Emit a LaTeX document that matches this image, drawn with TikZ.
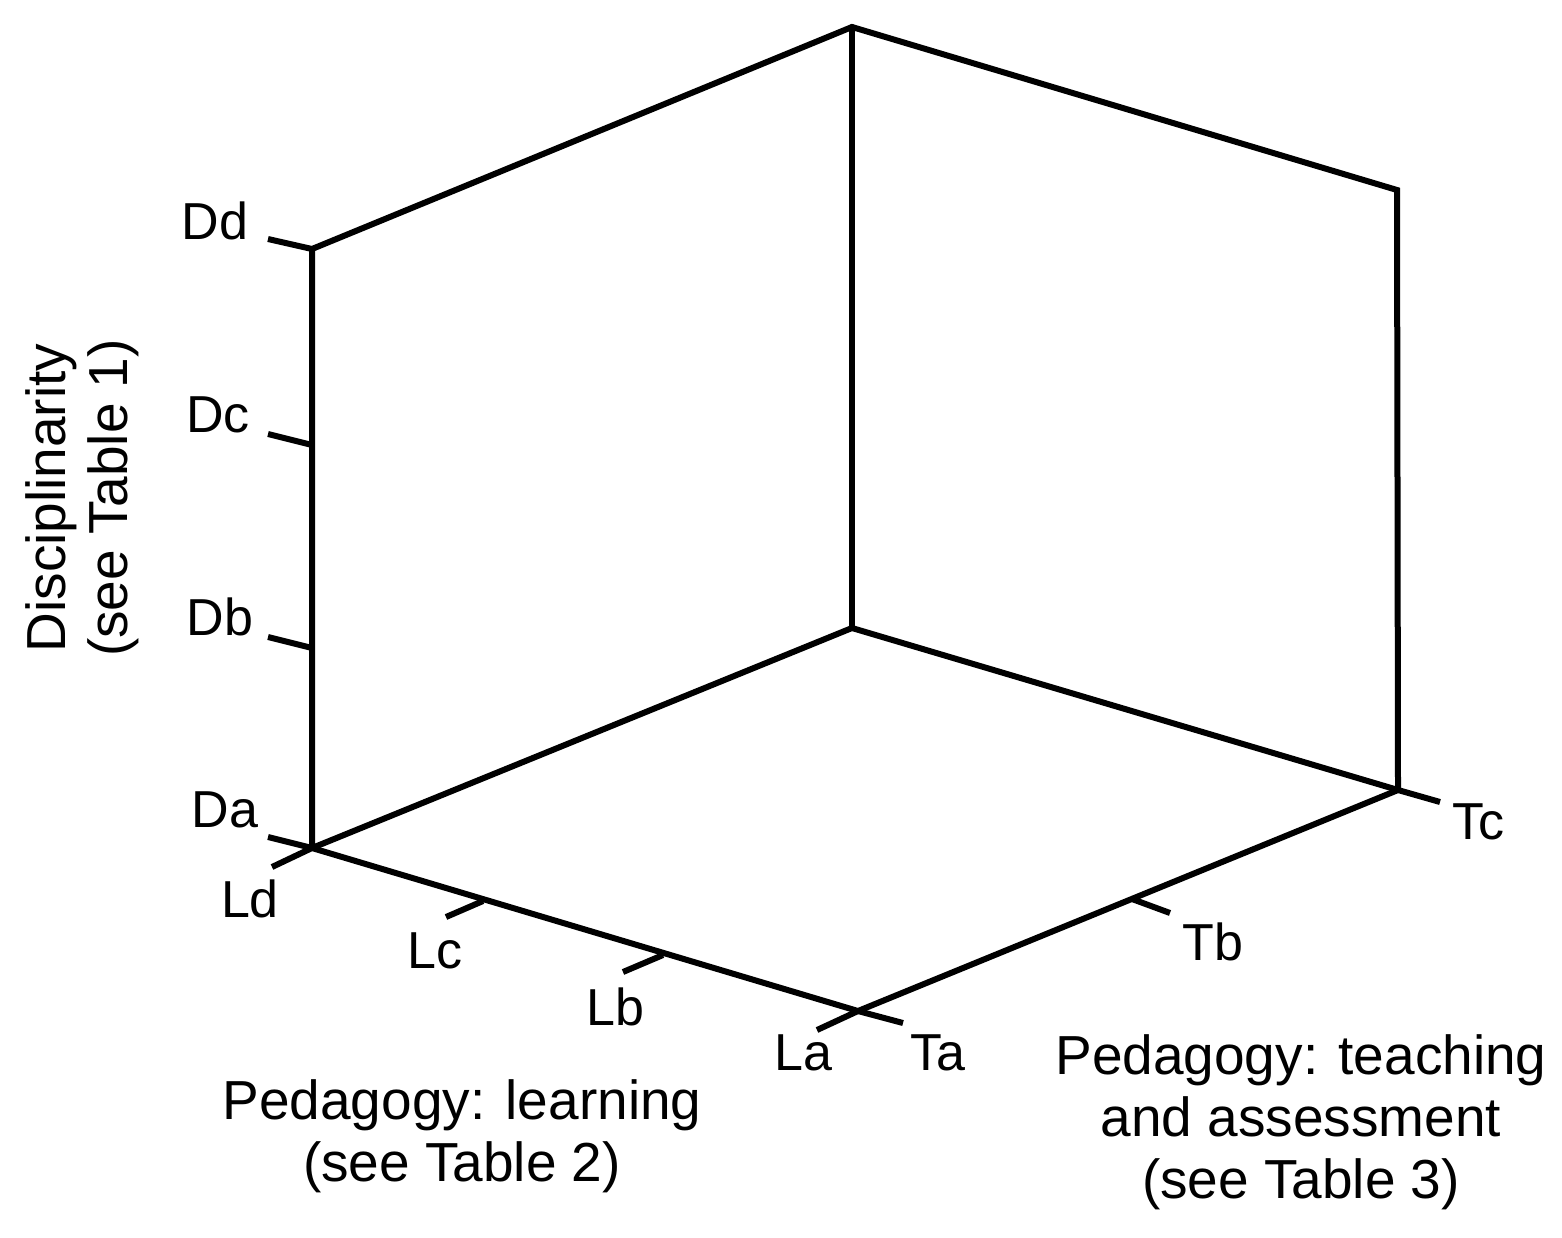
\documentclass[tikz,border=0pt]{standalone}
\usepackage{fontspec}
\setmainfont{Liberation Sans}
\begin{document}
\begin{tikzpicture}[x=1pt,y=-1pt,
  axis/.style={line width=6pt,line cap=round,line join=miter},
  tick/.style={line width=6pt},
  lab/.style={font=\fontsize{52}{62}\selectfont,inner sep=0pt},
  ttl/.style={font=\fontsize{55}{62}\selectfont,align=center,inner sep=0pt}]
\useasboundingbox (0,0) rectangle (1562,1237);
% cube corners
\coordinate (O) at (312,848);
\coordinate (DT) at (312,249);
\coordinate (BT) at (852,27);
\coordinate (BI) at (852,628);
\coordinate (F) at (858,1011);
\coordinate (RB) at (1398,790);
\coordinate (RT) at (1397,190);
% tick points
\coordinate (Dc) at (312,445);
\coordinate (Db) at (312,648);
\coordinate (Lc) at (483,901);
\coordinate (Lb) at (663,955);
\coordinate (Tb) at (1132,899);
% edges
\draw[axis] (DT) -- (O) -- (F) -- (RB) -- (RT) -- (BT) -- (DT);
\draw[axis] (O) -- (BI) -- (RB);
\draw[axis] (BI) -- (BT);
% ticks
\draw[tick] (DT) -- ++(-44,-10);
\draw[tick] (Dc) -- ++(-44,-11);
\draw[tick] (Db) -- ++(-44,-11);
\draw[tick] (O) -- ++(-44,-11);
\draw[tick] (O) -- ++(-40,19);
\draw[tick] (Lc) -- ++(-37,16);
\draw[tick] (Lb) -- ++(-40,17);
\draw[tick] (F) -- ++(-41,19);
\draw[tick] (F) -- ++(45,12);
\draw[tick] (Tb) -- ++(38,14);
\draw[tick] (RB) -- ++(42,12);
% labels
\node[lab] (lDd) at (215,221) {Dd};
\node[lab] (lDc) at (218,415) {Dc};
\node[lab] (lDb) at (220,617) {Db};
\node[lab] (lDa) at (225,810) {Da};
\node[lab] (lLd) at (250,899) {Ld};
\node[lab] (lLc) at (435,951) {Lc};
\node[lab] (lLb) at (615,1007) {Lb};
\node[lab] (lLa) at (803,1053) {La};
\node[lab] (lTa) at (938,1053) {Ta};
\node[lab] (lTb) at (1213,942) {Tb};
\node[lab] (lTc) at (1478,822) {Tc};
% titles
\node[ttl,rotate=90] (tD) at (82,498) {Disciplinarity\\(see Table 1)};
\node[ttl] (tL) at (462,1136) {Pedagogy: learning\\(see Table 2)};
\node[ttl] (tT) at (1301,1122) {Pedagogy: teaching\\and assessment\\(see Table 3)};
\end{tikzpicture}
\end{document}
